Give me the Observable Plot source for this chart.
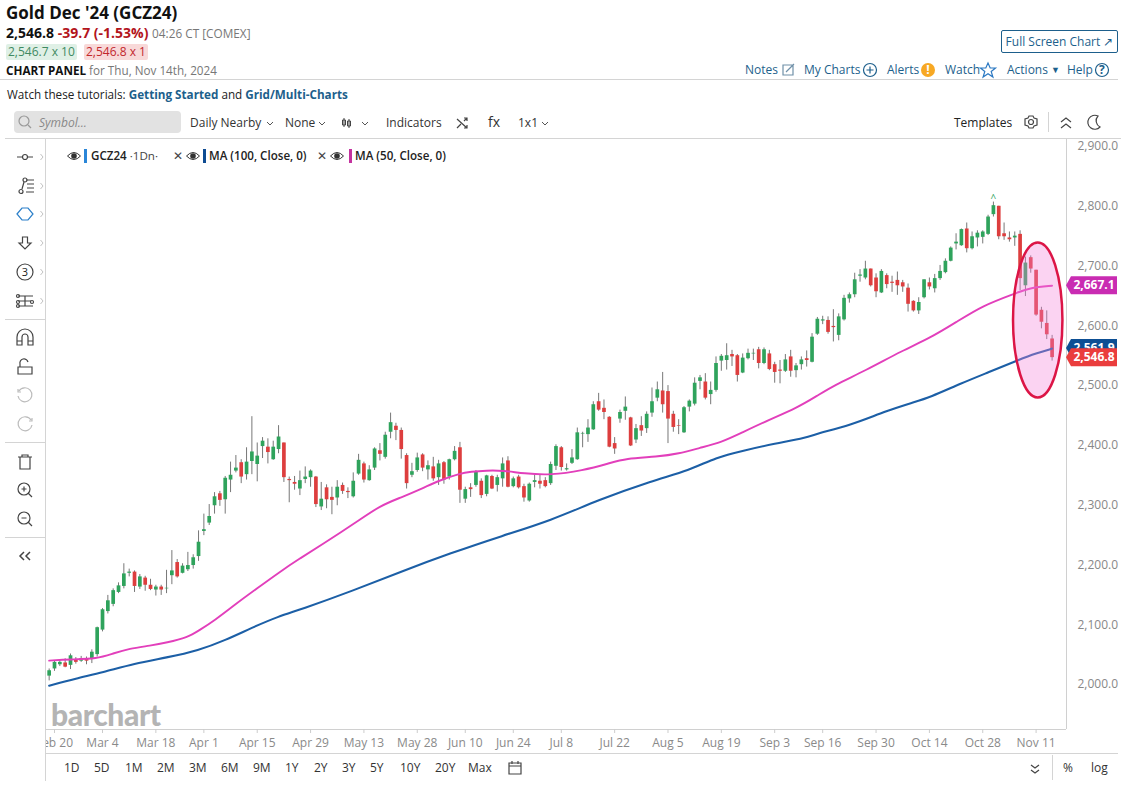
<!DOCTYPE html>
<html><head><meta charset="utf-8">
<script src="https://cdn.jsdelivr.net/npm/d3@7"></script>
<script src="https://cdn.jsdelivr.net/npm/@observablehq/plot@0.6"></script>
<style>
html,body{margin:0;padding:0;background:#fff;width:1136px;height:794px;overflow:hidden;font-family:"Open Sans",sans-serif;color:#222}
.t{position:absolute;white-space:nowrap;line-height:16px;font-size:12px}
.hr{position:absolute;background:#d4d4d4}
.b{color:#1d5f8c}
#chart{position:absolute;left:46px;top:129px}
#chrome{position:absolute;left:0;top:0;z-index:1}
#chrome *{fill:none;stroke:#444;stroke-width:1.2}
#chrome .eye{fill:#333;stroke:none}
</style></head><body>
<svg id="chrome" width="1136" height="794">
<g transform="translate(25,157)"><path d="M-8 0H-3M3 0H8"/><circle r="2.5"/></g>
<g transform="translate(25,186)"><path d="M1 -6H9M2 -2H9M2 2H9M1 6H9M-3 3L-1 -4"/><circle cx="-4" cy="5.500" r="2"/><circle cx="0" cy="-6" r="2"/></g>
<g transform="translate(25,214)"><path d="M-8 0L-3 -6H3L8 0L3 6H-3Z" style="stroke:#2a7fc9"/></g>
<g transform="translate(25,243)"><path d="M-2.500 -6H2.500V0H6L0 6L-6 0H-2.500Z"/></g>
<g transform="translate(25,272)"><circle r="8"/></g>
<g transform="translate(25,301)"><path d="M-7 -5H8M-7 5H8M0 -5V5M-7 0H6"/><circle cx="-7" cy="-5" r="1.500"/><circle cx="-7" cy="1" r="1.500"/><circle cx="-7" cy="5" r="1.500"/><circle cx="7" cy="1" r="1.500"/></g>
<g transform="translate(25,338)"><path d="M-8 7V-1A8 8 0 0 1 8 -1V7H3V-1A3 3 0 0 0 -3 -1V7ZM-8 3H-3M3 3H8"/></g>
<g transform="translate(25,367)"><path d="M-7 0H7V7H-7ZM-5 0V-3A4 4 0 0 1 3 -5"/></g>
<g transform="translate(25,395)"><path d="M-6 -4A7 7 0 1 1 -7 1M-7 -6V-3H-4" style="stroke:#bbb"/></g>
<g transform="translate(25,424)"><path d="M6 -4A7 7 0 1 0 7 1M7 -6V-3H4" style="stroke:#bbb"/></g>
<g transform="translate(25,462)"><path d="M-7 -5H7M-3 -5V-7H3V-5M-5 -5V7H5V-5"/></g>
<g transform="translate(25,490)"><circle cx="-1" cy="-1" r="6"/><path d="M3 3L7 7M-1 -3.500V1.500M-3.500 -1H1.500"/></g>
<g transform="translate(25,519)"><circle cx="-1" cy="-1" r="6"/><path d="M3 3L7 7M-3.500 -1H1.500"/></g>
<g transform="translate(25,556)"><path d="M-1 -4L-5 0L-1 4M5 -4L1 0L5 4" style="stroke-width:1.500"/></g>
<g style="opacity:.6"><path d="M40.500 154L43 157L40.500 160M40.500 183L43 186L40.500 189M40.500 211L43 214L40.500 217M40.500 240L43 243L40.500 246M40.500 269L43 272L40.500 275M40.500 298L43 301L40.500 304" style="stroke:#999;stroke-width:1"/></g>
<circle cx="24" cy="121" r="5" style="stroke:#999"/><path d="M28 125l3 3" style="stroke:#999"/>
<g transform="translate(346,123)"><path d="M-3.500 -3H-.5V2H-3.500ZM1.500 -2H4.500V3H1.500ZM-2 -5V4M3 -4V5" style="stroke-width:1"/></g>
<g transform="translate(462,123)"><path d="M-5 -4L5 5M-5 5L-1 1M2 -2L5 -5M2 -5H5V-2M2 5H5V2"/></g>
<g transform="translate(1031,122)"><circle r="2.500"/><path d="M-2 -6H2L3 -4L6 -3L6 3L3 4L2 6H-2L-3 4L-6 3L-6 -3L-3 -4Z"/></g>
<path d="M1061 122L1066 118L1071 122M1061 128L1066 124L1071 128"/>
<path d="M1098 116A7 7 0 1 0 1100 127A7 7 0 0 1 1098 116Z"/>
<path d="M509 763h12v11h-12zM509 766h12M512 761v3M518 761v3"/>
<path d="M1031 765l4 3l4 -3M1031 770l4 3l4 -3"/>
<path d="M267 122l3 3l3 -3M319 122l3 3l3 -3M362 122l3 3l3 -3M542 122l3 3l3 -3" style="stroke:#555;stroke-width:1"/>
<path d="M783 65h10v10h-10zM786 72l8 -8" style="stroke:#6f90a8"/>
<circle cx="870" cy="70" r="6.500" style="stroke:#1d5f8c"/><path d="M866.500 70h7M870 66.500v7" style="stroke:#1d5f8c"/>
<path d="M988 63l2.200 5h5.300l-4.300 3.500l1.700 5.500l-4.900 -3.200l-4.900 3.200l1.700 -5.500l-4.300 -3.500h5.300z" style="stroke:#2b78c2"/>
<circle cx="1102" cy="70" r="6.500" style="stroke:#1d5f8c"/>
<g transform="translate(74,156)"><path d="M-6.500 0Q0 -7 6.500 0Q0 7 -6.500 0Z" style="stroke:#333;stroke-width:1"/><circle class="eye" r="2.800"/></g>
<g transform="translate(193,156)"><path d="M-6.500 0Q0 -7 6.500 0Q0 7 -6.500 0Z" style="stroke:#333;stroke-width:1"/><circle class="eye" r="2.800"/></g>
<g transform="translate(337,156)"><path d="M-6.500 0Q0 -7 6.500 0Q0 7 -6.500 0Z" style="stroke:#333;stroke-width:1"/><circle class="eye" r="2.800"/></g>
</svg>

<div class="hr" style="left:0;top:79px;width:1118px;height:1px"></div>
<div class="hr" style="left:5px;top:138px;width:1116px;height:1px"></div>
<div class="hr" style="left:5px;top:319px;width:40px;height:1px"></div>
<div class="hr" style="left:5px;top:442px;width:40px;height:1px"></div>
<div class="hr" style="left:5px;top:537px;width:40px;height:1px"></div>
<div class="hr" style="left:45px;top:139px;width:1px;height:642px"></div>
<div class="hr" style="left:46px;top:753px;width:1072px;height:1px"></div>
<div class="hr" style="left:1052px;top:755px;width:1px;height:25px"></div>
<div class="hr" style="left:1048px;top:112px;width:1px;height:20px"></div>

<div class="t" style="left:6px;top:3px;font-size:17px;line-height:20px;font-weight:700;color:#111">Gold Dec '24 (GCZ24)</div>
<div class="t" style="left:6px;top:25px;font-size:14px"><b style="color:#111">2,546.8</b> <b style="color:#b3141c">-39.7 (-1.53%)</b> <span style="color:#777;font-size:11.8px">04:26 CT [COMEX]</span></div>
<div class="t" style="left:6px;top:44px;padding:0 2px;background:#dff0e6;color:#3f8a62;border-radius:2px">2,546.7 x 10</div>
<div class="t" style="left:84px;top:44px;padding:0 2px;background:#f8d9d9;color:#c2272d;border-radius:2px">2,546.8 x 1</div>
<div class="t" style="left:6px;top:62px;font-size:11.7px"><b style="color:#111">CHART PANEL</b> <span style="color:#777">for Thu, Nov 14th, 2024</span></div>
<div class="t" style="left:7px;top:86px;font-size:11.7px">Watch these tutorials: <b class="b">Getting Started</b> and <b class="b">Grid/Multi-Charts</b></div>
<div class="t" style="left:14px;top:111px;width:167px;height:22px;background:#e2e2e2;border-radius:4px"></div>
<div class="t" style="left:39px;top:115px;color:#888;font-style:italic">Symbol...</div>
<div class="t" style="left:190px;top:115px;color:#333">Daily Nearby</div>
<div class="t" style="left:285px;top:115px;color:#333">None</div>
<div class="t" style="left:386px;top:115px;color:#333">Indicators</div>
<div class="t" style="left:488px;top:114px;color:#333;font-size:14px">fx</div>
<div class="t" style="left:518px;top:115px;color:#333">1x1</div>
<div class="t" style="left:954px;top:115px;color:#222">Templates</div>
<div class="t" style="left:1001px;top:30px;width:115px;height:21px;line-height:21px;border:1px solid #1d5f8c;border-radius:2px;text-align:center;color:#1d5f8c">Full Screen Chart ↗</div>
<div class="t b" style="left:745px;top:62px">Notes</div>
<div class="t b" style="left:804px;top:62px">My Charts</div>
<div class="t b" style="left:887px;top:62px">Alerts</div>
<div class="t" style="left:921px;top:63px;width:14px;height:14px;line-height:14px;border-radius:7px;background:#f7a823;color:#fff;font-weight:700;text-align:center">!</div>
<div class="t b" style="left:945px;top:62px">Watch</div>
<div class="t b" style="left:1007px;top:62px">Actions</div>
<div class="t b" style="left:1051px;top:62px;font-size:9px">▼</div>
<div class="t b" style="left:1067px;top:62px">Help</div>
<div class="t b" style="left:1099px;top:62px;font-weight:700">?</div>
<div class="t" style="left:13px;top:264px;width:24px;text-align:center;font-size:11px">3</div>

<div id="chart"></div>

<div class="t" style="left:91px;top:148px;font-size:11.6px"><b style="font-weight:600">GCZ24</b> <span style="color:#444">·1Dn·</span></div>
<div class="t" style="left:84px;top:149px;width:3px;height:14px;background:#2a86d8"></div>
<div class="t" style="left:173px;top:148px;color:#444">✕</div>
<div class="t" style="left:203px;top:149px;width:3px;height:14px;background:#0f4c92"></div>
<div class="t" style="left:209px;top:148px;font-weight:600;font-size:11.6px">MA (100, Close, 0)</div>
<div class="t" style="left:317px;top:148px;color:#444">✕</div>
<div class="t" style="left:349px;top:149px;width:3px;height:14px;background:#c4329f"></div>
<div class="t" style="left:355px;top:148px;font-weight:600;font-size:11.6px">MA (50, Close, 0)</div>

<div class="t" style="left:51px;top:697px;font-family:Lato,sans-serif;font-weight:900;font-size:30px;line-height:34px;color:#b4b4b4;letter-spacing:-.4px">barchart</div>
<div id="ranges"></div>
<div class="t" style="left:1063px;top:760px;color:#333">%</div>
<div class="t" style="left:1091px;top:760px;color:#333">log</div>

<script>
const opens = [
2014,2026,2033,2036,2032,2042,2039,2042,2043,2050,2091,2122,2134,2154,2164,2186,2188,2163,2178,2166,
2158,2163,2160,2182,2204,2186,2192,2199,2214,2256,2270,2299,2319,2309,2342,2357,2371,2351,2373,2368,
2398,2397,2376,2393,2404,2343,2338,2327,
2343,2346,2347,2297,2329,2313,2312,2333,2323,2314,2352,2369,2341,2362,2391,2380,2422,2432,2425,2383,
2350,2358,2384,2359,2364,2346,2371,2347,2376,2396,2310,2329,2333,2340,2318,2348,2333,2344,2374,2331,
2347,2331,2307,2338,2340,2341,
2336,2365,2396,2359,2370,2376,2419,2418,2426,2473,2462,2447,2403,2444,2457,2446,2409,2433,2428,2454,
2479,2491,2490,2452,2433,2421,2464,2469,2507,2506,2485,2492,2541,2542,2552,2550,2521,2545,2553,2560,
2537,2553,2535,2526,2524,2548,2525,2535,2545,
2539,2586,2608,2609,2599,2584,2610,2645,2652,2683,2680,2695,2680,2655,2684,2673,2676,2672,2663,2641,
2625,2647,2672,2662,2679,2689,2708,2737,2734,2762,2729,2747,2748,2753,2786,2800,2754,2747,2747,2753,
2667,2714,2693,2626,2604,2578];
const closes = [
2023,2037,2037,2029,2048,2037,2043,2039,2054,2095,2125,2140,2157,2165,2185,2188,2164,2180,2166,2159,
2163,2158,2161,2190,2180,2198,2199,2212,2238,2259,2281,2314,2308,2345,2350,2362,2347,2372,2389,2382,
2407,2388,2397,2414,2346,2341,2335,2341,
2347,2357,2301,2310,2309,2308,2330,2323,2321,2340,2375,2342,2359,2394,2385,2417,2438,2425,2393,2336,
2356,2379,2362,2366,2344,2369,2342,2376,2390,2325,2326,2326,2355,2316,2349,2327,2346,2369,2330,2344,
2329,2312,2335,2341,2335,2331,
2368,2398,2363,2361,2379,2421,2420,2429,2468,2459,2455,2397,2394,2455,2464,2399,2428,2424,2452,2473,
2493,2468,2444,2430,2432,2463,2474,2504,2513,2479,2492,2537,2549,2550,2548,2517,2546,2554,2554,2537,
2560,2527,2522,2524,2543,2524,2533,2543,2542,
2581,2611,2610,2589,2597,2615,2646,2652,2677,2685,2695,2667,2657,2691,2669,2671,2667,2665,2636,2625,
2639,2677,2665,2679,2691,2708,2730,2740,2761,2729,2749,2755,2757,2782,2801,2749,2749,2744,2750,2679,
2705,2695,2618,2606,2585,2546.8];
const highs = [
2026,2040,2041,2043,2051,2045,2047,2046,2058,2096,2127,2149,2160,2170,2202,2193,2190,2184,2181,2176,
2166,2166,2191,2224,2209,2202,2221,2217,2257,2285,2301,2321,2323,2348,2372,2383,2376,2396,2448,2404,
2413,2411,2407,2433,2404,2347,2348,2357,
2364,2359,2348,2338,2334,2330,2341,2337,2329,2354,2385,2372,2366,2396,2403,2422,2454,2437,2429,2386,
2370,2387,2386,2374,2380,2375,2373,2377,2398,2405,2330,2336,2358,2344,2350,2350,2350,2379,2381,2347,
2350,2335,2337,2351,2350,2346,
2372,2401,2398,2369,2393,2429,2422,2443,2473,2487,2476,2448,2413,2459,2481,2447,2435,2448,2456,2496,
2506,2522,2500,2457,2443,2465,2476,2513,2517,2520,2506,2548,2552,2570,2559,2552,2553,2561,2561,2564,
2563,2559,2539,2542,2552,2559,2537,2548,2558,
2587,2614,2616,2615,2627,2620,2651,2655,2688,2694,2708,2695,2687,2694,2687,2683,2690,2676,2670,2642,
2647,2677,2680,2686,2701,2712,2732,2754,2762,2772,2757,2759,2759,2785,2807,2800,2772,2757,2757,2759,
2715,2717,2693,2631,2625,2584];
const lows = [
2006,2022,2030,2028,2025,2034,2037,2033,2035,2046,2088,2118,2130,2152,2160,2180,2154,2159,2156,2157,
2148,2149,2152,2167,2178,2185,2189,2193,2206,2249,2266,2285,2298,2285,2321,2354,2336,2342,2351,2339,
2378,2369,2375,2386,2338,2304,2325,2316,
2336,2330,2296,2291,2294,2284,2299,2318,2311,2312,2350,2337,2340,2358,2374,2377,2411,2408,2377,2327,
2346,2355,2356,2342,2340,2333,2335,2342,2374,2303,2303,2313,2330,2311,2314,2326,2322,2330,2329,2329,
2327,2305,2305,2329,2327,2329,
2333,2358,2357,2357,2368,2375,2396,2405,2425,2457,2443,2396,2385,2437,2442,2398,2403,2415,2420,2447,
2473,2454,2403,2422,2418,2420,2456,2466,2493,2476,2468,2489,2524,2526,2532,2506,2520,2543,2542,2528,
2535,2525,2504,2503,2522,2514,2513,2526,2531,
2538,2584,2602,2586,2573,2575,2608,2638,2647,2673,2677,2665,2647,2654,2662,2656,2651,2656,2623,2623,
2619,2645,2660,2655,2676,2687,2707,2727,2733,2722,2727,2732,2737,2751,2782,2744,2743,2740,2733,2659,
2649,2688,2616,2595,2577,2541];

const ma50Index = [0,4,9,12,15,19,22,26,28,31,35,39,43,47,51,58,62,66,70,73,77,79,82,85,89,94,100,105,108,114,118,122,126,130,135,140,144,147,153,160,165,170,175,181,184,188];
const ma50Values = [2040,2042,2043,2052,2060,2065,2070,2079,2090,2107,2135,2161,2187,2211,2233,2274,2299,2313,2328,2341,2353,2356,2358,2358,2353,2350,2358,2370,2378,2381,2386,2396,2405,2422,2443,2462,2483,2500,2525,2559,2579,2606,2634,2654,2664,2667.1];
const ma100Index = [0,5,10,16,22,28,33,38,43,47,57,66,75,85,94,103,113,120,125,130,136,142,144,150,157,162,165,171,176,182,185,188];
const ma100Values = [1998,2010,2020,2035,2045,2057,2074,2095,2114,2125,2157,2189,2219,2249,2274,2309,2341,2358,2380,2391,2403,2413,2420,2433,2458,2472,2480,2504,2522,2544,2554,2561.9];

const tickLabels = ["Feb 20","Mar 4","Mar 18","Apr 1","Apr 15","Apr 29","May 13","May 28","Jun 10","Jun 24","Jul 8","Jul 22","Aug 5","Aug 19","Sep 3","Sep 16","Sep 30","Oct 14","Oct 28","Nov 11"];
const tickIndex = [1,10,20,29,39,49,59,69,78,87,96,106,116,126,136,145,155,165,175,185];
const priceTicks = [2000,2100,2200,2300,2400,2500,2600,2700,2800,2900];
const rangeLabels = ["1D","5D","1M","2M","3M","6M","9M","1Y","2Y","3Y","5Y","10Y","20Y","Max"];
const rangeLefts = [64,94,125,157,189,221,253,285,314,342,370,400,435,468];
const priceTags = [{value:2667.1,fill:"#c92cb2"},{value:2561.9,fill:"#0d4f94"},{value:2546.8,fill:"#ea3d3d"}];
const highMark = {i:177,price:2812};
const circled = {i:185.4,price:2609,rx:24.7,ry:77.5};

const candles = opens.map((o,i)=>({i,open:o,close:closes[i],high:highs[i],low:lows[i]}));
const ma50 = ma50Index.map((i,k)=>({i,v:ma50Values[k]}));
const ma100 = ma100Index.map((i,k)=>({i,v:ma100Values[k]}));
const UP="#2fa35c", DOWN="#dd3e3e";

const chart = Plot.plot({
  width:1090, height:624, marginLeft:0, marginRight:70, marginTop:10, marginBottom:24,
  style:{background:"transparent",fontFamily:'"Open Sans",sans-serif',overflow:"hidden"},
  x:{domain:[-0.5,190.7],axis:null},
  y:{domain:[1924.7,2911.7],axis:null},
  marks:[
    Plot.ruleX([0],{x:()=>190.7,y1:1924.7,y2:2911.7,stroke:"#d0d0d0"}),
    Plot.ruleY([1924.7],{stroke:"#d0d0d0",x1:-0.5,x2:190.7}),
    Plot.ruleX(tickIndex,{x:d=>d,y1:1924.7,y2:1918,stroke:"#ccc"}),
    Plot.text(tickIndex,{x:d=>d,frameAnchor:"bottom",dy:17,text:(d,k)=>tickLabels[k],fill:"#8a8a8a",fontSize:12}),
    Plot.text(priceTicks,{y:d=>d,x:()=>190.7,dx:11,textAnchor:"start",text:d=>d3.format(",.1f")(d),fill:"#888",fontSize:12}),
    Plot.ruleX(candles,{x:"i",y1:"low",y2:"high",stroke:"#777",strokeWidth:1}),
    Plot.ruleX(candles,{x:"i",y1:"open",y2:"close",stroke:d=>d.close>=d.open?UP:DOWN,strokeWidth:3.7}),
    Plot.text([highMark],{x:"i",y:"price",text:()=>"^",fill:UP,fontSize:10}),
    Plot.line(ma100,{x:"i",y:"v",stroke:"#1c5fa6",strokeWidth:2.1,curve:"basis"}),
    Plot.line(ma50,{x:"i",y:"v",stroke:"#e23fbb",strokeWidth:1.9,curve:"basis"}),
    (index,{x,y})=>{
      const g=d3.create("svg:g");
      g.append("ellipse").attr("cx",x(circled.i)).attr("cy",y(circled.price))
       .attr("rx",circled.rx).attr("ry",circled.ry)
       .attr("fill","#f481da").attr("fill-opacity",.35).attr("stroke","#dc1546").attr("stroke-width",2.5);
      const x0=x(190.7);
      for(const t of priceTags){
        const c=y(t.value);
        g.append("path").attr("fill",t.fill)
         .attr("d",`M${x0} ${c}L${x0+5} ${c-9}H${x0+51}V${c+9}H${x0+5}Z`);
        g.append("text").attr("x",x0+28).attr("y",c).attr("dy","0.35em").attr("text-anchor","middle")
         .attr("fill","#fff").attr("font-weight",700).attr("font-size",12).text(d3.format(",.1f")(t.value));
      }
      return g.node();
    }
  ]
});
document.getElementById("chart").append(chart);
const r=document.getElementById("ranges");
rangeLabels.forEach((l,k)=>{const e=document.createElement("div");e.className="t";e.style.cssText=`left:${rangeLefts[k]}px;top:760px;color:#333`;e.textContent=l;r.append(e);});
</script>
</body></html>
